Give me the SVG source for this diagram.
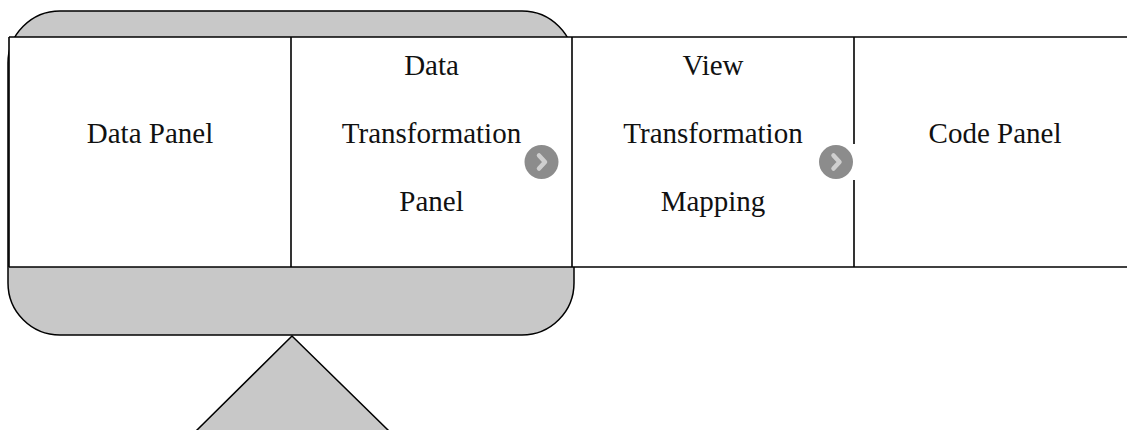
<svg xmlns="http://www.w3.org/2000/svg" width="1127" height="430" viewBox="0 0 1127 430">
  <style>
    .frame { fill: #c8c8c8; stroke: #000; stroke-width: 1.5; }
    .panel { fill: #fff; stroke: none; }
    .edge { stroke: #000; stroke-width: 1.6; fill: none; }
    .label { font-family: "Liberation Serif", "Times New Roman", serif; font-size: 29px; fill: #111; text-anchor: middle; }
    .nav { fill: #8c8c8c; }
    .chev { fill: none; stroke: #cfcfcf; stroke-width: 4.5; stroke-linecap: round; stroke-linejoin: round; }
  </style>
  <defs>
    <clipPath id="clip-left-of-code">
      <rect x="0" y="0" width="853" height="430"/>
    </clipPath>
  </defs>
  <rect width="1127" height="430" fill="#fff"/>

  <!-- stand and rounded housing behind the first two panels -->
  <g id="housing">
    <polygon class="frame" points="292,336 195,432 390,432"/>
    <rect class="frame" x="8" y="11" width="566" height="324" rx="52" ry="52"/>
  </g>

  <!-- panel strip -->
  <g id="panel-strip">
    <rect class="panel" x="9" y="37" width="1120" height="230"/>
    <line class="edge" x1="9" y1="37" x2="1127" y2="37"/>
    <line class="edge" x1="9" y1="267" x2="1127" y2="267"/>
    <line class="edge" x1="9" y1="37" x2="9" y2="267"/>
  </g>

  <g id="data-panel">
    <line class="edge" x1="291" y1="37" x2="291" y2="267"/>
    <text class="label" x="150" y="143">Data Panel</text>
  </g>

  <g id="data-transformation-panel">
    <line class="edge" x1="572" y1="37" x2="572" y2="267"/>
    <text class="label" x="431.5" y="75">Data</text>
    <text class="label" x="431.5" y="143">Transformation</text>
    <text class="label" x="431.5" y="211">Panel</text>
  </g>

  <g id="view-transformation-mapping">
    <line class="edge" x1="854" y1="37" x2="854" y2="144"/>
    <line class="edge" x1="854" y1="180" x2="854" y2="267"/>
    <text class="label" x="713" y="75">View</text>
    <text class="label" x="713" y="143">Transformation</text>
    <text class="label" x="713" y="211">Mapping</text>
  </g>

  <g id="code-panel">
    <text class="label" x="995" y="143">Code Panel</text>
  </g>

  <!-- next-step buttons between panels -->
  <g id="connectors">
    <g id="next-1">
      <circle class="nav" cx="541.5" cy="162" r="17"/>
      <polyline class="chev" points="539,155.5 545,162 539,168.5"/>
    </g>
    <g id="next-2" clip-path="url(#clip-left-of-code)">
      <circle class="nav" cx="836" cy="162" r="17"/>
      <polyline class="chev" points="833.5,155.5 839.5,162 833.5,168.5"/>
    </g>
  </g>
</svg>
